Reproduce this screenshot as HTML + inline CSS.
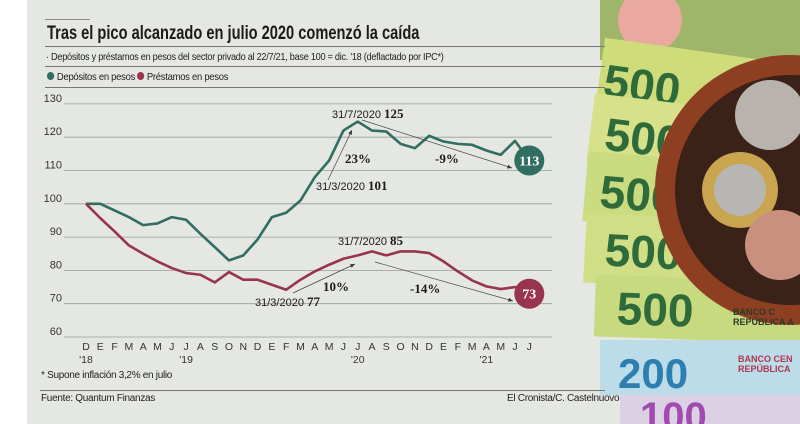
<!DOCTYPE html>
<html><head><meta charset="utf-8">
<style>
body{margin:0;width:800px;height:424px;overflow:hidden;background:#fff;font-family:"Liberation Sans",sans-serif;}
#panel{position:absolute;left:27px;top:0;width:773px;height:424px;background:#e4e7e2;}
.t{position:absolute;white-space:nowrap;color:#222;transform-origin:0 0;}
</style></head><body>
<div id="panel"></div>
<svg id="art" width="800" height="424" style="position:absolute;left:0;top:0">
  <rect x="600" y="0" width="200" height="60" fill="#9fb56a"/>
  <circle cx="650" cy="20" r="32" fill="#eaa9a0"/>
  <g transform="rotate(8 690 80)"><rect x="600" y="50" width="260" height="75" fill="#cfdc7a"/><text x="605" y="108" font-size="46" font-weight="bold" fill="#2f6b3a" font-family="Liberation Sans">500</text></g>
  <g transform="rotate(7 690 140)"><rect x="590" y="105" width="260" height="70" fill="#d6e18a"/><text x="605" y="160" font-size="46" font-weight="bold" fill="#2f6b3a" font-family="Liberation Sans">500</text></g>
  <g transform="rotate(5 690 195)"><rect x="585" y="160" width="260" height="70" fill="#cbdc80"/><text x="600" y="215" font-size="46" font-weight="bold" fill="#2f6b3a" font-family="Liberation Sans">500</text></g>
  <g transform="rotate(3 690 250)"><rect x="585" y="218" width="260" height="70" fill="#d0df86"/><text x="605" y="270" font-size="46" font-weight="bold" fill="#2f6b3a" font-family="Liberation Sans">500</text></g>
  <g transform="rotate(2 700 305)"><rect x="595" y="278" width="260" height="62" fill="#c8da80"/><text x="617" y="327" font-size="46" font-weight="bold" fill="#2f6b3a" font-family="Liberation Sans">500</text></g>
  <circle cx="790" cy="190" r="135" fill="#8e3f22"/>
  <circle cx="790" cy="190" r="115" fill="#3a2218"/>
  <circle cx="770" cy="115" r="35" fill="#b9b3ad"/>
  <circle cx="740" cy="190" r="38" fill="#c9a550"/><circle cx="740" cy="190" r="26" fill="#b8b6b2"/>
  <circle cx="780" cy="245" r="35" fill="#c99080"/>
  <rect x="600" y="340" width="200" height="55" fill="#bcdcea"/>
  <text x="618" y="388" font-size="42" font-weight="bold" fill="#2d7fb0" font-family="Liberation Sans">200</text>
  <text x="738" y="362" font-size="9" font-weight="bold" fill="#b0354a" font-family="Liberation Sans">BANCO CEN</text>
  <text x="738" y="372" font-size="9" font-weight="bold" fill="#b0354a" font-family="Liberation Sans">REPÚBLICA</text>
  <text x="733" y="315" font-size="9" font-weight="bold" fill="#2d3a2a" font-family="Liberation Sans">BANCO C</text>
  <text x="733" y="325" font-size="9" font-weight="bold" fill="#2d3a2a" font-family="Liberation Sans">REPÚBLICA A</text>
  <rect x="620" y="395" width="180" height="29" fill="#dcd1e4"/>
  <text x="640" y="430" font-size="40" font-weight="bold" fill="#a04bb0" font-family="Liberation Sans">100</text>
</svg>
<div class="t" style="left:45px;top:19px;width:45px;height:1px;background:#888"></div>
<div class="t" style="left:47px;top:23px;font-size:19px;font-weight:bold;color:#1b1b1b;transform:scaleX(0.77)">Tras el pico alcanzado en julio 2020 comenzó la caída</div>
<div class="t" style="left:45px;top:46px;width:560px;height:1px;background:#777"></div>
<div class="t" style="left:46px;top:51px;font-size:10.5px;letter-spacing:-0.3px;transform:scaleX(0.87)">· Depósitos y préstamos en pesos del sector privado al 22/7/21, base 100 = dic. '18 (deflactado por IPC*)</div>
<div class="t" style="left:45px;top:66px;width:560px;height:1px;background:#777"></div>
<div class="t" style="left:47px;top:71px;font-size:10.5px;letter-spacing:-0.3px;transform:scaleX(0.9)"><span style="display:inline-block;width:8px;height:8px;border-radius:50%;background:#2f6e60;margin-right:3px"></span>Depósitos en pesos</div>
<div class="t" style="left:137px;top:71px;font-size:10.5px;letter-spacing:-0.3px;transform:scaleX(0.9)"><span style="display:inline-block;width:8px;height:8px;border-radius:50%;background:#98354d;margin-right:3px"></span>Préstamos en pesos</div>
<div class="t" style="left:45px;top:87px;width:560px;height:1px;background:#777"></div>

<svg id="chart" width="800" height="424" style="position:absolute;left:0;top:0"></svg>

<div class="t" style="left:41px;top:370px;font-size:10px;letter-spacing:-0.3px">* Supone inflación 3,2% en julio</div>
<div class="t" style="left:40px;top:390px;width:565px;height:1px;background:#777"></div>
<div class="t" style="left:41px;top:393px;font-size:10px;letter-spacing:-0.3px">Fuente: Quantum Finanzas</div>
<div class="t" style="left:507px;top:393px;font-size:10px;letter-spacing:-0.3px">El Cronista/C. Castelnuovo</div>

<script>
const months=["D","E","F","M","A","M","J","J","A","S","O","N","D","E","F","M","A","M","J","J","A","S","O","N","D","E","F","M","A","M","J","J"];
const years=[["'18",0],["'19",7],["'20",19],["'21",28]];
const yTicks=[60,70,80,90,100,110,120,130];
const deposits=[100,100,98,96,93.6,94.1,96,95.2,91,87,83,84.5,89.3,96,97.3,101,108,113,122,124.7,122,121.7,118,116.7,120.4,118.7,118,117.7,116,114.7,118.9,113];
const loans=[100,95.7,91.7,87.5,85,82.7,80.7,79.2,78.7,76.4,79.5,77.2,77.2,75.7,74.2,77.2,79.7,81.7,83.5,84.5,85.7,84.5,85.7,85.7,85.2,82.7,79.7,77,75.2,74.4,75,73];
const NS="http://www.w3.org/2000/svg";
const svg=document.getElementById('chart');
const X=i=>86+i*14.3;
const Y=v=>337-(v-60)*3.33;
function mk(tag,attrs,txt){const e=document.createElementNS(NS,tag);for(const k in attrs)e.setAttribute(k,attrs[k]);if(txt!==undefined)e.textContent=txt;svg.appendChild(e);return e;}
yTicks.forEach(v=>{
  const l=mk('line',{x1:64,x2:552,y1:Y(v),y2:Y(v),stroke:'#9a9c98','stroke-width':0.8});
  
  
  const t=mk('text',{x:62,y:Y(v)-2,'text-anchor':'end','font-size':11,fill:'#333','font-family':'Liberation Sans'},v);
  
  
});
months.forEach((m,i)=>{
  const t=mk('text',{x:X(i),y:350,'text-anchor':'middle','font-size':10.5,fill:'#333','font-family':'Liberation Sans'},m);
  
  
});
years.forEach(([y,i])=>{
  const t=mk('text',{x:X(i),y:363,'text-anchor':'middle','font-size':10.5,fill:'#333','font-family':'Liberation Sans'},y);
  
  
});
function line(data,color,name){
  const p=mk('polyline',{points:data.map((v,i)=>X(i)+','+Y(v)).join(' '),fill:'none',stroke:color,'stroke-width':2.6,'stroke-linejoin':'round'});
  
  
}
line(deposits,'#2f6e60','deposits-line');
line(loans,'#98354d','loans-line');
function arrow(x1,y1,x2,y2){
  const l=mk('line',{x1,y1,x2,y2,stroke:'#444','stroke-width':0.7});
  
  
  const a=Math.atan2(y2-y1,x2-x1),s=5;
  const h=mk('polygon',{points:`${x2},${y2} ${x2-s*Math.cos(a-0.4)},${y2-s*Math.sin(a-0.4)} ${x2-s*Math.cos(a+0.4)},${y2-s*Math.sin(a+0.4)}`,fill:'#333'});
  
  
}
arrow(328,180,352,130);arrow(362,120,512,168);
arrow(293,293,355,264);arrow(375,262,513,301);
function label(x,y,small,big,name){
  const t=mk('text',{x,y,'font-size':11,fill:'#1b1b1b','font-family':'Liberation Sans'});
  
  
  const a=document.createElementNS(NS,'tspan');a.textContent=small;t.appendChild(a);
  if(big){const b=document.createElementNS(NS,'tspan');b.setAttribute('font-family','Liberation Serif');b.setAttribute('font-weight','bold');b.setAttribute('font-size',13);b.textContent=big;t.appendChild(b);}
}
label(332,118,'31/7/2020 ','125','peak-deposits-label');
label(316,190,'31/3/2020 ','101','march-deposits-label');
label(338,245,'31/7/2020 ','85','peak-loans-label');
label(255,306,'31/3/2020 ','77','march-loans-label');
[['23%',345,163],['-9%',435,163],['10%',323,291],['-14%',410,293]].forEach(([t,x,y])=>{
  const e=mk('text',{x,y,'font-size':13,'font-weight':'bold',fill:'#1b1b1b','font-family':'Liberation Serif'},t);
  
  
});
function badge(v,color,name){
  const i=months.length-1;
  const c=mk('circle',{cx:X(i),cy:Y(v),r:15,fill:color});
  
  
  const t=mk('text',{x:X(i),y:Y(v)+5,'text-anchor':'middle','font-size':14,'font-weight':'bold',fill:'#fff','font-family':'Liberation Serif'},v);
  
  
}
badge(deposits[deposits.length-1],'#2f6e60','deposits-end-badge');
badge(loans[loans.length-1],'#98354d','loans-end-badge');
</script>
</body></html>
